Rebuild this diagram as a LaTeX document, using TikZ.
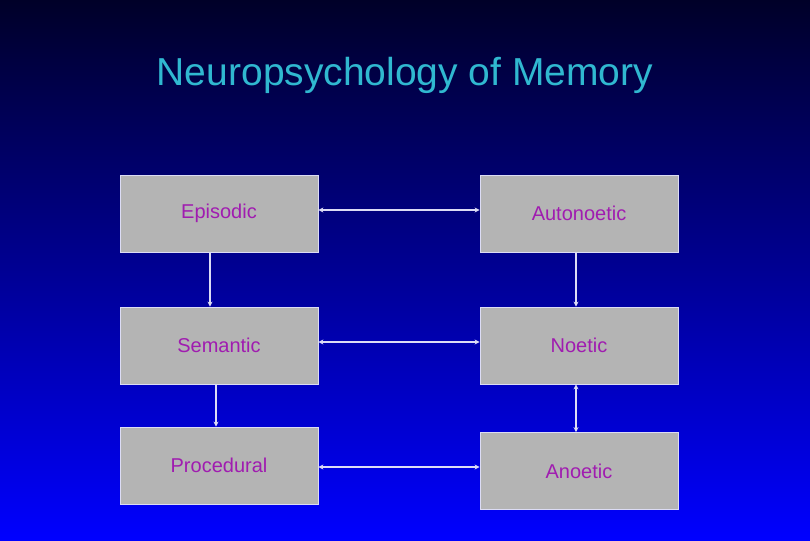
\documentclass[tikz,border=0pt]{standalone}
\usepackage{fontspec}
\setmainfont{Liberation Sans}
\usetikzlibrary{arrows.meta}
\definecolor{boxgray}{HTML}{B4B4B4}
\definecolor{txt}{HTML}{A01CB0}
\definecolor{arr}{HTML}{DCDCF5}
\definecolor{ttl}{HTML}{30B8D0}
\tikzset{
  mbox/.style={draw=arr, line width=0.8pt, fill=boxgray, minimum width=198pt, minimum height=77pt, inner sep=0pt, text=txt, font=\fontsize{20}{24}\selectfont},
  conn/.style={draw=arr, line width=1.5pt, -{Stealth[length=5pt,width=5pt]}},
  bconn/.style={draw=arr, line width=1.5pt, {Stealth[length=5pt,width=5pt]}-{Stealth[length=5pt,width=5pt]}}
}
\begin{document}
\begin{tikzpicture}[x=1pt,y=-1pt]
\shade[top color={rgb,255:red,0;green,0;blue,40}, bottom color={rgb,255:red,0;green,0;blue,255}, shading angle=0] (0,0) rectangle (810,540);
\useasboundingbox (0,0) rectangle (810,540);
\node[text=ttl, font=\fontsize{39}{46}\selectfont] (title) at (405,75) {Neuropsychology of Memory};
\node[mbox] (epi) at (219,213.5) {Episodic};
\node[mbox] (aut) at (579,213.5) {Autonoetic};
\node[mbox] (sem) at (219,345.5) {Semantic};
\node[mbox] (noe) at (579,345.5) {Noetic};
\node[mbox] (pro) at (219,465.5) {Procedural};
\node[mbox] (ano) at (579,471) {Anoetic};
\draw[bconn] (epi.east |- 0,210) -- (aut.west |- 0,210);
\draw[bconn] (sem.east |- 0,342) -- (noe.west |- 0,342);
\draw[bconn] (pro.east |- 0,467) -- (ano.west |- 0,467);
\draw[conn] (epi.south -| 210,0) -- (sem.north -| 210,0);
\draw[conn] (aut.south -| 576,0) -- (noe.north -| 576,0);
\draw[conn] (sem.south -| 216,0) -- (pro.north -| 216,0);
\draw[bconn] (noe.south -| 576,0) -- (ano.north -| 576,0);
\end{tikzpicture}
\end{document}
